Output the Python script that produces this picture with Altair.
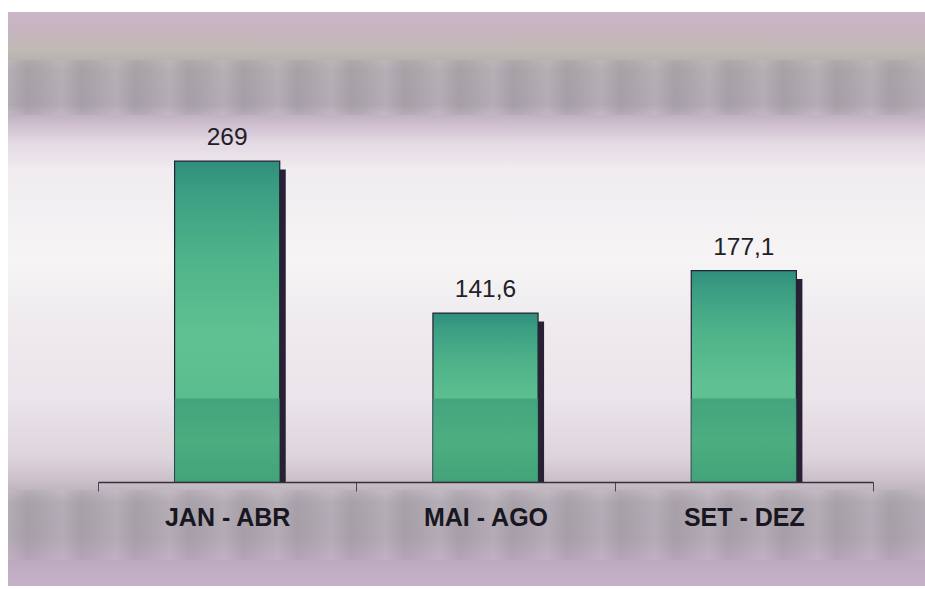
import altair as alt
import pandas as pd

# Quadrimestral totals
periodos = ["JAN - ABR", "MAI - AGO", "SET - DEZ"]
valores = [269, 141.6, 177.1]
rotulos = ["269", "141,6", "177,1"]

dados = pd.DataFrame({"periodo": periodos, "valor": valores, "rotulo": rotulos})
fundo = pd.DataFrame({"k": [0]})

FONTE = "Liberation Sans"
W, H_PLOT, H_TOTAL = 925, 482, 589


def grad_v(pares):
    # vertical linear gradient from (offset, color) pairs
    return alt.Gradient(
        gradient="linear", x1=0, x2=0, y1=0, y2=1,
        stops=[alt.GradientStop(offset=o, color=c) for o, c in pares],
    )


def grad_h(pares):
    return alt.Gradient(
        gradient="linear", x1=0, x2=1, y1=0, y2=0,
        stops=[alt.GradientStop(offset=o, color=c) for o, c in pares],
    )


def off(y):
    return round((y - 12) / (H_TOTAL - 12), 4)


# Backdrop: light centre with greyish-violet bands at top and bottom
fundo_cor = grad_v([
    (0.0, "#cbb5c8"),
    (off(30), "#c6b4c0"),
    (off(50), "#c0bab4"),
    (off(70), "#aea8ae"),
    (off(105), "#aca5ad"),
    (off(122), "#cbbacb"),
    (off(142), "#e2d8e2"),
    (off(170), "#f0ecf0"),
    (off(260), "#f6f4f5"),
    (off(330), "#eeeaee"),
    (off(400), "#ebe4ea"),
    (off(460), "#ddd3dc"),
    (off(485), "#c9bec8"),
    (off(505), "#aea7af"),
    (off(540), "#aca4ae"),
    (off(560), "#bca9be"),
    (1.0, "#c6b2c8"),
])

base_fundo = alt.Chart(fundo).mark_rect(color=fundo_cor).encode(
    x=alt.value(8), x2=alt.value(W), y=alt.value(12), y2=alt.value(H_TOTAL - 3)
)

# soft streaky texture across the top and bottom bands
listras = []
n = 17
for i in range(n):
    p = i / n
    listras += [
        (round(p, 4), "#e6dce8"),
        (round(p + 0.35 / n, 4), "#77727a"),
        (round(p + 0.55 / n, 4), "#8f8a92"),
    ]
listras.append((1.0, "#e6dce8"))
textura = grad_h(listras)

faixa_topo = alt.Chart(fundo).mark_rect(color=textura, opacity=0.13).encode(
    x=alt.value(8), x2=alt.value(W), y=alt.value(60), y2=alt.value(115)
)
faixa_base = alt.Chart(fundo).mark_rect(color=textura, opacity=0.12).encode(
    x=alt.value(8), x2=alt.value(W), y=alt.value(490), y2=alt.value(560)
)

x_enc = alt.X(
    "periodo:N",
    sort=periodos,
    title=None,
    scale=alt.Scale(range=[98, 873], paddingInner=0, paddingOuter=0),
    axis=alt.Axis(
        labelAngle=0,
        labelFont=FONTE,
        labelFontSize=25,
        labelFontWeight="bold",
        labelColor="#18161f",
        labelPadding=14,
        domainColor="#34303a",
        domainWidth=1.3,
        tickColor="#4a4650",
        tickSize=9,
        tickBand="extent",
        zindex=1,
    ),
)
y_scale = alt.Scale(domain=[0, 404])
LARGURA = alt.RelativeBandSize(0.407)

base = alt.Chart(dados)

sombra = base.transform_calculate(topo="datum.valor - 7").mark_bar(
    color="#2a2036", xOffset=6, width=LARGURA
).encode(x=x_enc, y=alt.Y("topo:Q", scale=y_scale, axis=None), y2=alt.datum(0))

barra_cor = grad_v([
    (0.0, "#2f8e7c"),
    (0.08, "#3a9c82"),
    (0.3, "#4fb38a"),
    (0.55, "#60c292"),
    (0.8, "#58bb8c"),
    (1.0, "#4fb085"),
])

barras = base.mark_bar(
    color=barra_cor, stroke="#242234", strokeWidth=1.2, width=LARGURA
).encode(x=x_enc, y=alt.Y("valor:Q", scale=y_scale, axis=None), y2=alt.datum(0))

parte_baixa = base.transform_calculate(baixo="min(datum.valor, 70)").mark_bar(
    color=grad_v([(0, "#3a9a78"), (0.5, "#48a97c"), (1, "#3f9e76")]),
    opacity=0.75,
    width=LARGURA,
).encode(x=x_enc, y=alt.Y("baixo:Q", scale=y_scale, axis=None), y2=alt.datum(0))

textos = base.mark_text(
    font=FONTE, fontSize=24.5, color="#222026", baseline="alphabetic", dy=-16
).encode(x=x_enc, y=alt.Y("valor:Q", scale=y_scale, axis=None), text="rotulo:N")

chart = (
    alt.layer(base_fundo, faixa_topo, faixa_base, sombra, barras, parte_baixa, textos)
    .properties(
        width=W,
        height=H_PLOT,
        autosize=alt.AutoSizeParams(type="none"),
        padding={"left": 0, "top": 0, "right": 0, "bottom": H_TOTAL - H_PLOT},
        background="#ffffff",
    )
    .configure_view(stroke=None)
)

chart.save("out.html", embed_options={"renderer": "svg", "actions": False})
